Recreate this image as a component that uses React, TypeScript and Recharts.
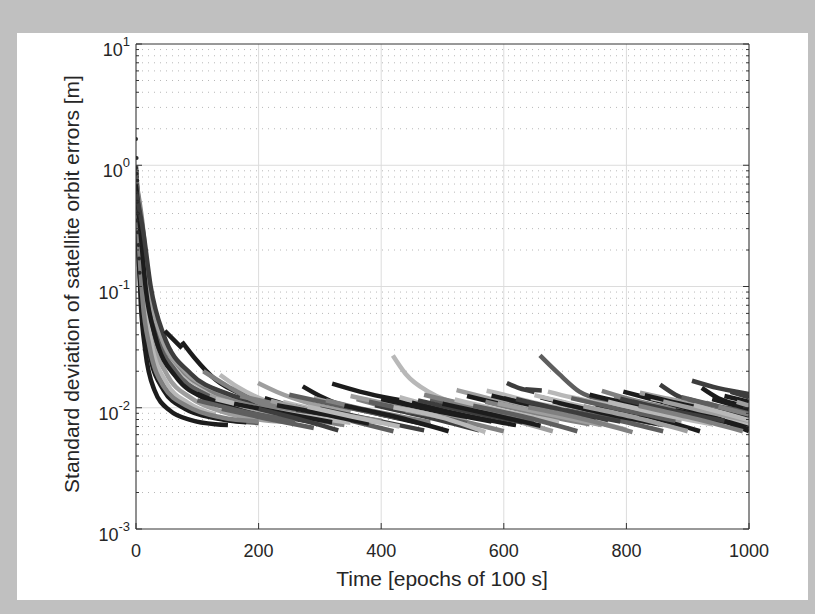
import {
  ComposedChart,
  Line,
  Scatter,
  XAxis,
  YAxis,
  CartesianGrid,
  ReferenceLine,
} from "recharts";

const AXIS = "#333333";
const TEXT = "#262626";
const FONT = "'Liberation Sans', Arial, Helvetica, sans-serif";
const SHADES = ["#1c1c1c", "#3d3d3d", "#5e5e5e", "#808080", "#9e9e9e", "#b8b8b8"];

const xTicks = [0, 200, 400, 600, 800, 1000];
const yMajor = [0.001, 0.01, 0.1, 1, 10];
const yExponents = ["-3", "-2", "-1", "0", "1"];
const yMinor = [
  0.002, 0.003, 0.004, 0.005, 0.006, 0.007, 0.008, 0.009,
  0.02, 0.03, 0.04, 0.05, 0.06, 0.07, 0.08, 0.09,
  0.2, 0.3, 0.4, 0.5, 0.6, 0.7, 0.8, 0.9,
  2, 3, 4, 5, 6, 7, 8, 9,
];

// initial convergence, all satellites start at epoch 0
const settleTimes = [
  [0, 4, 8, 15, 30, 55, 90, 130, 150],
  [0, 5, 10, 20, 40, 70, 110, 160, 200],
  [0, 6, 12, 25, 50, 90, 140, 200, 250],
  [0, 7, 14, 28, 55, 100, 160, 230, 300],
  [0, 8, 16, 30, 60, 110, 180, 260],
  [0, 10, 20, 35, 70, 120, 200, 290],
  [0, 5, 12, 22, 45, 80, 130, 180],
  [0, 9, 18, 32, 65, 115, 190, 270, 340],
  [0, 6, 14, 26, 50, 85, 130],
  [0, 11, 22, 40, 80, 140, 220],
  [0, 5, 11, 22, 45, 85, 140, 200],
  [0, 8, 16, 32, 65, 120, 190],
  [0, 12, 24, 45, 90, 150, 230, 310],
];
const settleValues = [
  [0.85, 0.2, 0.07, 0.03, 0.014, 0.0095, 0.0079, 0.0073, 0.0072],
  [1.0, 0.25, 0.09, 0.035, 0.017, 0.011, 0.0088, 0.0078, 0.0075],
  [0.7, 0.3, 0.11, 0.04, 0.019, 0.012, 0.0093, 0.008, 0.0076],
  [0.9, 0.32, 0.12, 0.045, 0.022, 0.013, 0.0098, 0.0085, 0.0079],
  [0.6, 0.3, 0.12, 0.05, 0.024, 0.0145, 0.0105, 0.009],
  [0.75, 0.35, 0.11, 0.045, 0.022, 0.014, 0.0105, 0.0092],
  [0.5, 0.15, 0.06, 0.028, 0.014, 0.0098, 0.0082, 0.0076],
  [0.65, 0.28, 0.1, 0.042, 0.02, 0.0128, 0.0098, 0.0088, 0.0082],
  [0.8, 0.22, 0.075, 0.032, 0.016, 0.011, 0.0088],
  [0.55, 0.25, 0.09, 0.04, 0.02, 0.0135, 0.0105],
  [0.95, 0.22, 0.075, 0.032, 0.015, 0.0102, 0.0083, 0.0077],
  [0.7, 0.26, 0.095, 0.038, 0.018, 0.0115, 0.009],
  [0.6, 0.28, 0.1, 0.04, 0.019, 0.013, 0.0103, 0.009],
];
const settleShades = [0, 2, 4, 1, 5, 3, 0, 2, 5, 4, 3, 0, 1];

// raw epoch samples near t=0
const startDots = [
  { t: 0, v: 1.65 }, { t: 1, v: 1.15 }, { t: 0, v: 0.95 }, { t: 1, v: 0.85 },
  { t: 2, v: 0.75 }, { t: 0, v: 0.6 }, { t: 2, v: 0.5 }, { t: 3, v: 0.4 },
  { t: 1, v: 0.35 }, { t: 3, v: 0.28 }, { t: 4, v: 0.22 }, { t: 5, v: 0.17 },
  { t: 6, v: 0.13 },
];

// satellites rising later, each arc converges again
const riseTimes = [
  [47, 60, 75],
  [75, 95, 130, 180, 240],
  [137, 165, 210, 280],
  [110, 150, 200, 260],
  [199, 230, 280, 350],
  [272, 300, 333, 400],
  [320, 365, 420, 500],
  [419, 440, 480, 530, 580],
  [659, 690, 724, 780, 850],
  [605, 625, 650],
  [635, 662],
  [572, 600, 650, 720],
  [523, 560, 620, 700],
  [672, 710, 780, 860],
  [855, 880, 910, 960],
  [907, 950, 1000],
  [923, 950, 990],
  [795, 830, 880, 950],
  [822, 870, 940, 1000],
  [760, 800, 860, 920],
  [150, 220, 300],
  [180, 260, 340],
  [210, 280, 360],
  [240, 320, 400],
  [260, 330, 420],
  [290, 370, 460],
  [330, 400, 480],
  [360, 430, 520],
  [390, 470, 560],
  [430, 500, 590],
  [450, 530, 620],
  [480, 560, 650],
  [510, 590, 680],
  [540, 620, 700],
  [570, 650, 740],
  [600, 680, 770],
  [630, 710, 800],
  [660, 740, 830],
  [690, 770, 860],
  [720, 800, 890],
  [750, 830, 920],
  [780, 860, 950],
  [810, 890, 980],
  [840, 920, 1000],
  [870, 940, 1000],
  [900, 960, 1000],
  [930, 970, 1000],
  [120, 190, 270],
  [100, 170, 250],
  [140, 210, 290],
  [960, 1000],
  [300, 380, 470],
  [440, 520, 600],
  [700, 780, 860],
  [880, 950, 1000],
  [100, 180, 260],
  [130, 200, 280, 350],
  [160, 240, 320],
  [170, 250, 330, 400],
  [200, 260, 330],
  [220, 300, 390],
  [230, 310, 380],
  [250, 340, 430],
  [280, 350, 430],
  [310, 390, 480],
  [340, 420, 510],
  [350, 440, 540],
  [380, 460, 540],
  [400, 490, 580],
  [420, 500, 570],
  [460, 540, 630],
  [470, 550, 640],
  [500, 580, 660],
  [520, 600, 690],
  [550, 630, 720],
  [580, 660, 750],
  [590, 670, 760],
  [620, 700, 790],
  [640, 720, 810],
  [650, 730, 820],
  [680, 760, 850],
  [710, 790, 880],
  [730, 810, 900],
  [740, 820, 910],
  [770, 850, 940],
  [790, 870, 960],
  [820, 900, 990],
  [830, 910, 1000],
  [860, 930, 1000],
  [890, 950, 1000],
  [910, 960, 1000],
  [940, 980, 1000],
  [950, 1000],
  [970, 1000],
  [980, 1000],
];
const riseValues = [
  [0.043, 0.037, 0.031],
  [0.035, 0.026, 0.017, 0.0125, 0.0105],
  [0.0187, 0.0149, 0.0115, 0.0095],
  [0.02, 0.015, 0.011, 0.009],
  [0.016, 0.0135, 0.011, 0.0092],
  [0.015, 0.0125, 0.0106, 0.009],
  [0.0158, 0.0136, 0.0118, 0.0102],
  [0.027, 0.019, 0.0133, 0.0105, 0.0092],
  [0.027, 0.019, 0.0135, 0.011, 0.0095],
  [0.016, 0.0145, 0.0135],
  [0.0142, 0.0139],
  [0.0138, 0.0128, 0.011, 0.0095],
  [0.014, 0.0125, 0.0105, 0.009],
  [0.0136, 0.0122, 0.0104, 0.0092],
  [0.0155, 0.0128, 0.011, 0.0095],
  [0.0167, 0.0145, 0.013],
  [0.0146, 0.012, 0.0105],
  [0.0136, 0.0122, 0.0105, 0.0092],
  [0.0133, 0.0118, 0.0102, 0.0094],
  [0.0138, 0.012, 0.0102, 0.009],
  [0.011, 0.0088, 0.0075],
  [0.0105, 0.0085, 0.0072],
  [0.012, 0.0095, 0.008],
  [0.0112, 0.009, 0.0075],
  [0.0102, 0.0083, 0.0064],
  [0.012, 0.0095, 0.0078],
  [0.0108, 0.0088, 0.0072],
  [0.0118, 0.0095, 0.0079],
  [0.0105, 0.0085, 0.0065],
  [0.0122, 0.0098, 0.008],
  [0.011, 0.0088, 0.0072],
  [0.0118, 0.0094, 0.0078],
  [0.0105, 0.0085, 0.0064],
  [0.0125, 0.01, 0.0082],
  [0.0112, 0.009, 0.0073],
  [0.012, 0.0096, 0.0078],
  [0.0108, 0.0087, 0.0066],
  [0.0122, 0.0098, 0.008],
  [0.011, 0.0088, 0.0072],
  [0.0118, 0.0095, 0.0077],
  [0.0106, 0.0086, 0.0064],
  [0.0125, 0.01, 0.0081],
  [0.0112, 0.009, 0.0073],
  [0.012, 0.0097, 0.0072],
  [0.0108, 0.0085, 0.0064],
  [0.0118, 0.0098, 0.0088],
  [0.011, 0.0095, 0.0087],
  [0.0125, 0.0098, 0.0082],
  [0.013, 0.0095, 0.0078],
  [0.0098, 0.0082, 0.0068],
  [0.0125, 0.0112],
  [0.0098, 0.0081, 0.0065],
  [0.0095, 0.008, 0.0064],
  [0.0096, 0.008, 0.0064],
  [0.0095, 0.008, 0.0068],
  [0.0115, 0.0092, 0.0078],
  [0.0118, 0.0098, 0.0085, 0.0075],
  [0.0108, 0.009, 0.0076],
  [0.0125, 0.0102, 0.0088, 0.0078],
  [0.0098, 0.0082, 0.0065],
  [0.0114, 0.0092, 0.0077],
  [0.0105, 0.0088, 0.0074],
  [0.0128, 0.0102, 0.0082],
  [0.0102, 0.0085, 0.007],
  [0.0115, 0.0093, 0.0076],
  [0.0104, 0.0085, 0.0064],
  [0.0125, 0.01, 0.0081],
  [0.0112, 0.0092, 0.0075],
  [0.0118, 0.0094, 0.0077],
  [0.0101, 0.0083, 0.0063],
  [0.0115, 0.0093, 0.0076],
  [0.0128, 0.0103, 0.0083],
  [0.0108, 0.0088, 0.0071],
  [0.0117, 0.0094, 0.0076],
  [0.0104, 0.0085, 0.0064],
  [0.0126, 0.0101, 0.0081],
  [0.0109, 0.0089, 0.0072],
  [0.0118, 0.0095, 0.0077],
  [0.0101, 0.0083, 0.0063],
  [0.0127, 0.0102, 0.0082],
  [0.0113, 0.0091, 0.0074],
  [0.012, 0.0097, 0.0078],
  [0.0103, 0.0084, 0.0064],
  [0.0128, 0.0103, 0.0083],
  [0.0112, 0.009, 0.0073],
  [0.0119, 0.0096, 0.0078],
  [0.0104, 0.0084, 0.0064],
  [0.0127, 0.0102, 0.0085],
  [0.0113, 0.0093, 0.0078],
  [0.0122, 0.0103, 0.0092],
  [0.0105, 0.009, 0.0079],
  [0.0118, 0.0104, 0.0098],
  [0.0102, 0.0088],
  [0.0135, 0.0122],
  [0.0112, 0.0104],
];
const riseShades = [
  0, 0, 5, 3, 4, 0, 0, 5, 2, 1, 1, 5, 4, 5, 1, 1, 0, 0, 4, 3,
  1, 3, 0, 5, 2, 4, 0, 3, 1, 5, 0, 2, 4, 0, 3, 1, 5, 0, 2, 4,
  0, 3, 1, 5, 0, 2, 4, 4, 0, 2, 0, 1, 3, 2, 0,
  2, 5, 0, 3, 1, 4, 0, 2, 5, 3, 0, 4, 2, 0, 5, 1, 3, 0, 5, 2,
  0, 4, 1, 3, 5, 0, 2, 4, 0, 5, 1, 3, 0, 4, 2, 5, 0, 3, 1, 4,
];

function toPoints(times: number[][], values: number[][]) {
  return times.map((ts, i) => ts.map((t, j) => ({ t, v: values[i][j] })));
}

const settleArcs = toPoints(settleTimes, settleValues);
const riseArcs = toPoints(riseTimes, riseValues);
const yAllTicks = [...yMajor, ...yMinor].sort((a, b) => a - b);

function LeftTick(props: any) {
  const { x, y, payload } = props;
  const axisX = x + 6;
  const idx = yMajor.indexOf(payload.value);
  const major = idx >= 0;
  return (
    <g>
      <line x1={axisX} x2={axisX + (major ? 6 : 3)} y1={y} y2={y} stroke={AXIS} />
      {major && (
        <text x={x} y={y + 12} textAnchor="end" fill={TEXT} fontSize={18} fontFamily={FONT}>
          10
          <tspan dy={-10} fontSize={13}>
            {yExponents[idx]}
          </tspan>
        </text>
      )}
    </g>
  );
}

function RightTick(props: any) {
  const { x, y, payload } = props;
  const major = yMajor.indexOf(payload.value) >= 0;
  return <line x1={x} x2={x - (major ? 6 : 3)} y1={y} y2={y} stroke={AXIS} />;
}

function BottomTick(props: any) {
  const { x, y, payload } = props;
  const axisY = y - 6;
  return (
    <g>
      <line x1={x} x2={x} y1={axisY} y2={axisY - 6} stroke={AXIS} />
      <text x={x} y={y + 22} textAnchor="middle" fill={TEXT} fontSize={18} fontFamily={FONT}>
        {payload.value}
      </text>
    </g>
  );
}

function TopTick(props: any) {
  const { x, y } = props;
  return <line x1={x} x2={x} y1={y} y2={y + 6} stroke={AXIS} />;
}

export default function App() {
  return (
    <div
      style={{
        position: "absolute",
        left: 0,
        top: 0,
        width: 815,
        height: 614,
        background: "#c0c0c0",
        fontFamily: FONT,
      }}
    >
      <div
        style={{
          position: "absolute",
          left: 17,
          top: 33,
          width: 791,
          height: 567,
          background: "#ffffff",
        }}
      />
      <ComposedChart
        width={815}
        height={614}
        margin={{ top: 34, right: 56, bottom: 55, left: 76 }}
        style={{ position: "absolute", left: 0, top: 0 }}
      >
        <XAxis
          xAxisId="b"
          dataKey="t"
          type="number"
          domain={[0, 1000]}
          ticks={xTicks}
          interval={0}
          allowDataOverflow
          height={30}
          tickSize={0}
          tickMargin={6}
          tickLine={false}
          axisLine={{ stroke: AXIS }}
          tick={<BottomTick />}
        />
        <XAxis
          xAxisId="top"
          orientation="top"
          type="number"
          domain={[0, 1000]}
          ticks={xTicks}
          interval={0}
          allowDataOverflow
          height={10}
          tickSize={0}
          tickMargin={0}
          tickLine={false}
          axisLine={{ stroke: AXIS }}
          tick={<TopTick />}
        />
        <YAxis
          yAxisId="l"
          dataKey="v"
          type="number"
          scale="log"
          domain={[0.001, 10]}
          ticks={yAllTicks}
          interval={0}
          allowDataOverflow
          width={60}
          tickSize={0}
          tickMargin={6}
          tickLine={false}
          axisLine={{ stroke: AXIS }}
          tick={<LeftTick />}
        />
        <YAxis
          yAxisId="r"
          orientation="right"
          type="number"
          scale="log"
          domain={[0.001, 10]}
          ticks={yAllTicks}
          interval={0}
          allowDataOverflow
          width={10}
          tickSize={0}
          tickMargin={0}
          tickLine={false}
          axisLine={{ stroke: AXIS }}
          tick={<RightTick />}
        />
        <CartesianGrid xAxisId="b" yAxisId="l" horizontal={false} stroke="#dcdcdc" />
        {yMinor.map((v) => (
          <ReferenceLine
            key={`m${v}`}
            xAxisId="b"
            yAxisId="l"
            y={v}
            stroke="#b8b8b8"
            strokeDasharray="1 5"
          />
        ))}
        {yMajor.slice(1, 4).map((v) => (
          <ReferenceLine key={`M${v}`} xAxisId="b" yAxisId="l" y={v} stroke="#dcdcdc" />
        ))}
        {settleArcs.map((pts, i) => (
          <Line
            key={`s${i}`}
            data={pts}
            dataKey="v"
            xAxisId="b"
            yAxisId="l"
            type="monotone"
            stroke={SHADES[settleShades[i]]}
            strokeWidth={4.5}
            dot={false}
            isAnimationActive={false}
          />
        ))}
        {riseArcs.map((pts, i) => (
          <Line
            key={`r${i}`}
            data={pts}
            dataKey="v"
            xAxisId="b"
            yAxisId="l"
            type="monotone"
            stroke={SHADES[riseShades[i]]}
            strokeWidth={4.5}
            dot={false}
            isAnimationActive={false}
          />
        ))}
        <Scatter
          data={startDots}
          dataKey="v"
          xAxisId="b"
          yAxisId="l"
          isAnimationActive={false}
          shape={(p: any) => <circle cx={p.cx} cy={p.cy} r={2} fill="#2a2a2a" />}
        />
      </ComposedChart>
      <div
        style={{
          position: "absolute",
          left: 442,
          top: 579,
          transform: "translate(-50%, -50%)",
          fontSize: 21,
          color: TEXT,
          whiteSpace: "nowrap",
        }}
      >
        Time [epochs of 100 s]
      </div>
      <div
        style={{
          position: "absolute",
          left: 72,
          top: 284,
          transform: "translate(-50%, -50%) rotate(-90deg)",
          fontSize: 21,
          color: TEXT,
          whiteSpace: "nowrap",
        }}
      >
        Standard deviation of satellite orbit errors [m]
      </div>
    </div>
  );
}
